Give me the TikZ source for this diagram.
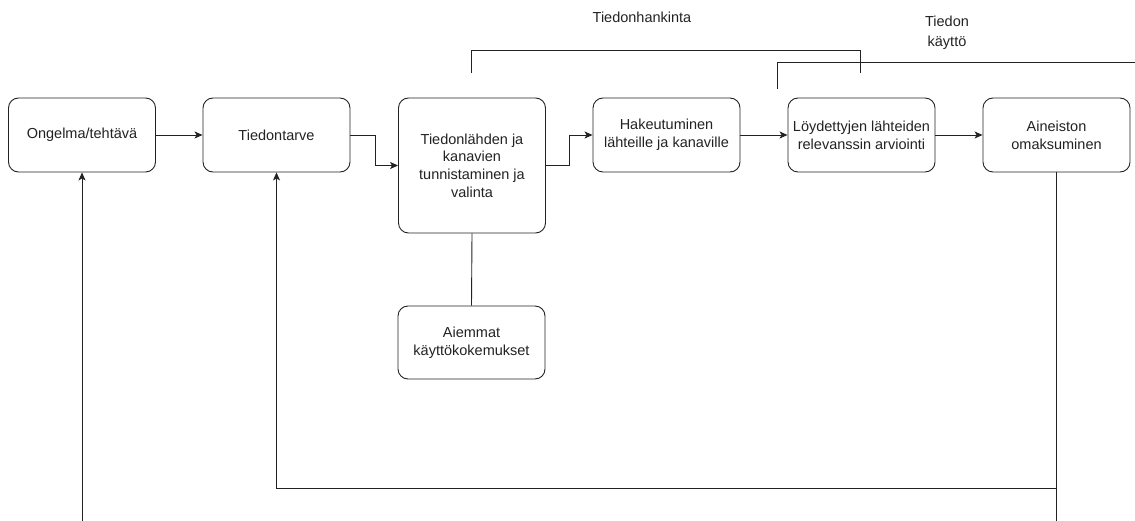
\documentclass[tikz,border=0pt]{standalone}
\usepackage{fontspec}
\setmainfont{Liberation Sans}
\usetikzlibrary{arrows.meta}
\definecolor{ink}{HTML}{222222}
\begin{document}
\begin{tikzpicture}[x=1pt,y=-1pt,
  box/.style={draw=ink, line width=0.9pt, rounded corners=10pt, minimum width=147pt, minimum height=74pt, align=center, text=ink, font=\fontsize{14.5}{17.7}\selectfont, inner sep=1pt},
  conn/.style={draw=ink, line width=0.9pt},
  arr/.style={conn, -{Stealth[length=8pt,width=7pt,inset=2pt]}},
  lbl/.style={align=center, text=ink, font=\fontsize{14.5}{20}\selectfont}]
\useasboundingbox (0,0) rectangle (1135,521);
\node[box] (b1) at (82,135) {Ongelma/tehtävä};
\node[box] (b2) at (276.5,135) {Tiedontarve};
\node[box, minimum height=135pt] (b3) at (472,165.5) {Tiedonlähden ja\\kanavien\\tunnistaminen ja\\valinta};
\node[box] (b4) at (666.5,135) {Hakeutuminen\\lähteille ja kanaville};
\node[box] (b5) at (861.5,135) {Löydettyjen lähteiden\\relevanssin arviointi};
\node[box] (b6) at (1056.5,135) {Aineiston\\omaksuminen};
\node[box, minimum height=73pt] (b7) at (471.5,342.5) {Aiemmat\\käyttökokemukset};

\draw[arr] (b1) -- (b2);
\draw[arr] (b2.east) -- ++(25,0) |- (b3.west);
\draw[arr] (b3.east) -- ++(23,0) |- (b4.west);
\draw[arr] (b4) -- (b5);
\draw[arr] (b5) -- (b6);
\draw[conn] (b3.south) -- (b7.north);

% brackets
\coordinate (h1) at (471,73);
\coordinate (h2) at (860,73);
\draw[conn] (h1) -- (471,50) -- (860,50) -- (h2);
\coordinate (k1) at (777,89);
\coordinate (k2) at (1135,62);
\draw[conn] (k1) -- (777,62) -- (k2);
\node[lbl] (t1) at (642,17) {Tiedonhankinta};
\node[lbl] (t2) at (947,33) {Tiedon\\käyttö};

% feedback lines
\coordinate (f1) at (b6.south |- 0,521);
\coordinate (f2) at (b6.south |- 0,488);
\coordinate (f3) at (82,521);
\draw[conn] (b6.south) -- (f1);
\draw[arr] (f2) -| (b2.south);
\draw[arr] (f3) -- (b1.south);
\end{tikzpicture}
\end{document}
